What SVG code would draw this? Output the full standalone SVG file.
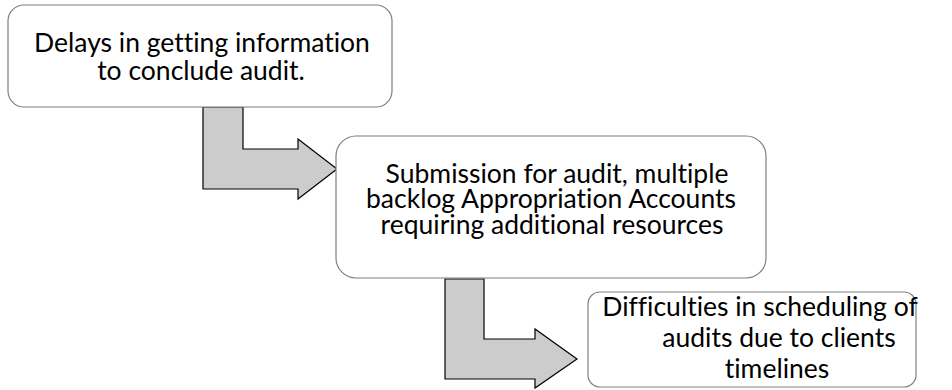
<svg xmlns="http://www.w3.org/2000/svg" width="952" height="390" viewBox="0 0 952 390">
<style>
.box{fill:#ffffff;stroke:#7f7f7f;stroke-width:1.2}
.arrow{fill:#cccccc;stroke:#000000;stroke-width:1.2;stroke-linejoin:miter}
text{font-family:Lato,"Open Sans","Liberation Sans",sans-serif;font-size:26.5px;fill:#000000;text-anchor:middle;font-variant-ligatures:none}
</style>
<rect width="952" height="390" fill="#ffffff"/>
<g id="connectors">
<polygon class="arrow" points="203,107 243,107 243,149 298,149 298,139 337,169 298,199 298,189 203,189"/>
<polygon class="arrow" points="445,279 484,279 484,339 535,339 535,329 577,359 535,388 535,379 445,379"/>
</g>
<g id="node1">
<rect class="box" x="8" y="5" width="384" height="102" rx="16"/>
<text x="202" y="52">Delays in getting information</text>
<text x="201" y="80">to conclude audit.</text>
</g>
<g id="node2">
<rect class="box" x="336" y="136" width="430" height="142" rx="20"/>
<text x="557" y="183">Submission for audit,  multiple</text>
<text x="551" y="208">backlog Appropriation Accounts</text>
<text x="552" y="234">requiring additional resources</text>
</g>
<g id="node3">
<rect class="box" x="588" y="292" width="328" height="95" rx="12"/>
<text x="760" y="316">Difficulties in scheduling of</text>
<text x="779" y="347">audits due to clients</text>
<text x="777" y="378">timelines</text>
</g>
</svg>
